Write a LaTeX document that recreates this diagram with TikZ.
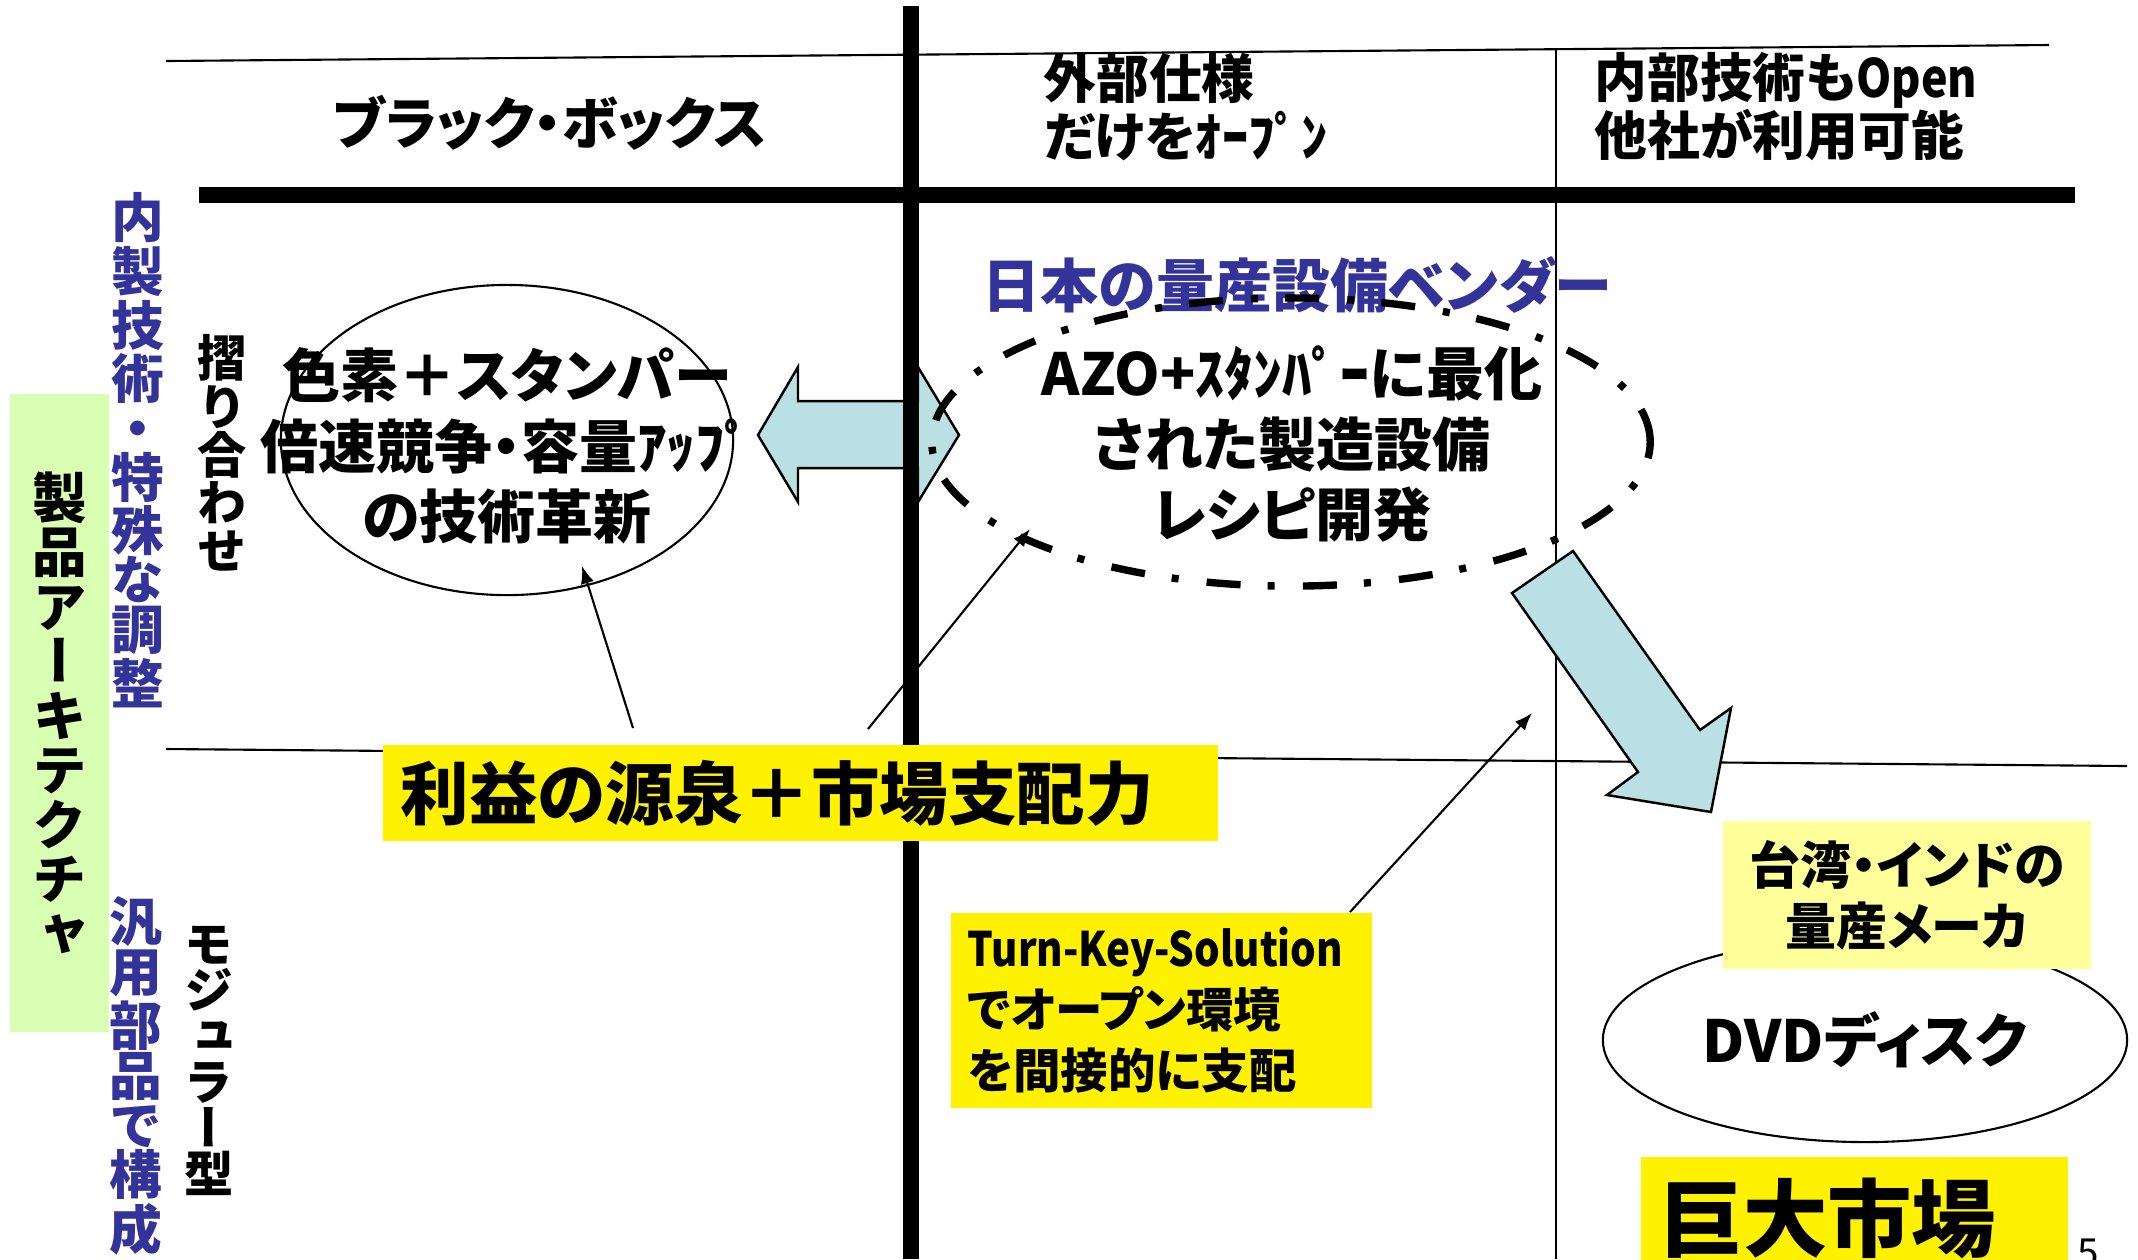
\documentclass[tikz,border=0pt]{standalone}
\usepackage{fontspec}
\setmainfont{Noto Sans CJK JP}[RawFeature=+palt]
\newfontfamily\vjp{Noto Sans CJK JP}[RawFeature=+vert]
\newfontfamily\narrowfont{Noto Sans CJK JP}[FakeStretch=0.85]
\usetikzlibrary{arrows.meta}
\usetikzlibrary{shapes.geometric}
\definecolor{vendorblue}{RGB}{51,51,153}
\definecolor{archgreen}{RGB}{217,255,179}
\definecolor{arrowcyan}{RGB}{187,224,227}
\definecolor{paleyellow}{RGB}{255,255,153}
\hyphenpenalty=10000
\exhyphenpenalty=10000

\begin{document}
\begin{tikzpicture}[x=0.01cm,y=-0.01cm,>={Latex[length=5pt,width=3.8pt]},
    thinline/.style={line width=0.6pt},
    boldline/.style={line width=4.8pt},
    chainline/.style={line width=2.1pt,dash pattern=on 9.7pt off 7.7pt on 2pt off 8pt},
    blockarrow/.style={draw,line width=0.7pt,fill=arrowcyan,line join=miter},
    colhead/.style={font=\bfseries\fontsize{15}{16.5}\selectfont,align=left,anchor=west,inner sep=0pt},
    vtext/.style={font=\vjp\bfseries\fontsize{15}{14}\selectfont,align=center,inner sep=0pt},
    bubble/.style={font=\bfseries\fontsize{16.5}{20}\selectfont,align=center,inner sep=0pt}]
        \useasboundingbox (0,0) rectangle (2138,1259);
        % draw the thin grid lines
        \draw[thinline] (166,61) -- (2049,45);
        \draw[thinline] (166,749) -- (2127,766);
        \draw[thinline] (1556,48) -- (1556,1259);
        % column heads
        \node[colhead,anchor=center,font=\bfseries\fontsize{16}{18}\selectfont] (hBlack) at (550,123) {ブラック・ボックス};
        \node[colhead] (hOuter) at (1043,107) {外部仕様\\だけをｵｰﾌﾟﾝ};
        \node[colhead] (hInner) at (1594,107) {内部技術も{\narrowfont Open}\\他社が利用可能};
        % row heads
        \node[fill=archgreen,minimum width=0.99cm,minimum height=6.38cm,vtext,font=\vjp\bfseries\fontsize{15.5}{15.5}\selectfont] (arch) at (59.5,713) {製\\品\\ア\\ー\\キ\\テ\\ク\\チ\\ャ};
        \node[vtext,text=vendorblue] (rowTech) at (138,450) {内\\製\\技\\術\\・\\特\\殊\\な\\調\\整};
        \node[vtext,text=vendorblue,font=\vjp\bfseries\fontsize{15}{14.2}\selectfont] (rowParts) at (136,1076) {汎\\用\\部\\品\\で\\構\\成};
        \node[vtext,font=\vjp\bfseries\fontsize{14}{13.7}\selectfont] (rowSuri) at (222,453) {摺\\り\\合\\わ\\せ};
        \node[vtext,font=\vjp\bfseries\fontsize{14}{13.1}\selectfont] (rowModular) at (209,1061) {モ\\ジ\\ュ\\ラ\\ー\\型};
        % the black box bubble
        \node[draw,ellipse,thinline,minimum width=4.52cm,minimum height=3.10cm,inner sep=0pt] (eLeft) at (507,440) {};
        \node[bubble] (tLeft) at (507,446) {色素＋スタンパー\\倍速競争・容量ｱｯﾌﾟ\\の技術革新};
        % double arrow between the bubbles
        \draw[blockarrow] (758,435) -- (798,367) -- (798,401) -- (918,401) -- (918,367) -- (959,435)
            -- (918,502) -- (918,468) -- (798,468) -- (798,502) -- cycle;
        % draw the thick axes
        \draw[boldline] (911,6) -- (911,1259);
        \draw[boldline] (199,195) -- (2075,195);
        % the vendor bubble
        \node[font=\bfseries\fontsize{16.5}{20}\selectfont,text=vendorblue,inner sep=0pt] (vendor) at (1297,285) {日本の量産設備ベンダー};
        \node[draw,ellipse,chainline,minimum width=7.18cm,minimum height=2.88cm,inner sep=0pt] (eRight) at (1291,442) {};
        \node[bubble] (tRight) at (1292,444) {AZO+ｽﾀﾝﾊﾟｰに最化\\された製造設備\\レシピ開発};
        % arrow down to the open side
        \draw[blockarrow] (1512,593) -- (1638,772) -- (1607,795) -- (1711,812) -- (1731,708) -- (1700,730) -- (1573,551) -- cycle;
        % boxes
        \node[fill=yellow,anchor=west,inner xsep=0.18cm,inner ysep=0pt,text width=7.99cm,minimum height=0.96cm,align=left,
            font=\bfseries\fontsize{19.5}{22}\selectfont] (profit) at (382,793) {利益の源泉＋市場支配力};
        \node[fill=yellow,anchor=north west,inner xsep=0.17cm,inner ysep=0pt,text width=3.87cm,minimum height=1.95cm,align=left,
            font=\bfseries\fontsize{13.5}{17.4}\selectfont] (turnkey) at (950,912) {{\narrowfont Turn-Key-Solution}\\でオープン環境\\を間接的に支配};
        \node[draw,ellipse,thinline,fill=white,minimum width=5.24cm,minimum height=2.04cm,inner sep=0pt,
            font=\bfseries\fontsize{16.5}{20}\selectfont] (eDisc) at (1865,1040) {DVDディスク};
        \node[fill=paleyellow,minimum width=3.68cm,minimum height=1.48cm,inner sep=0pt,align=center,
            font=\bfseries\fontsize{14.5}{17.4}\selectfont] (maker) at (1907,895) {台湾・インドの\\量産メーカ};
        \node[fill=yellow,anchor=north west,inner xsep=0.18cm,inner ysep=0pt,text width=3.91cm,minimum height=1.24cm,align=left,
            font=\bfseries\fontsize{24}{28}\selectfont] (market) at (1640,1156) {巨大市場};
        \node[anchor=north,inner sep=0pt,font=\fontsize{11}{13}\selectfont] (pageNo) at (2088,1238) {5};
        % draw the pointers
        \coordinate (fromProfitL) at (633,728);
        \coordinate (toLeft) at (582,566);
        \coordinate (fromProfitR) at (868,729);
        \coordinate (toRight) at (1030,529);
        \coordinate (fromKey) at (1350,912);
        \coordinate (toOpen) at (1532,713);
        \draw[thinline,->] (fromProfitL) -- (toLeft);
        \draw[thinline,->] (fromProfitR) -- (toRight);
        \draw[thinline,->] (fromKey) -- (toOpen);
    \end{tikzpicture}
\end{document}
